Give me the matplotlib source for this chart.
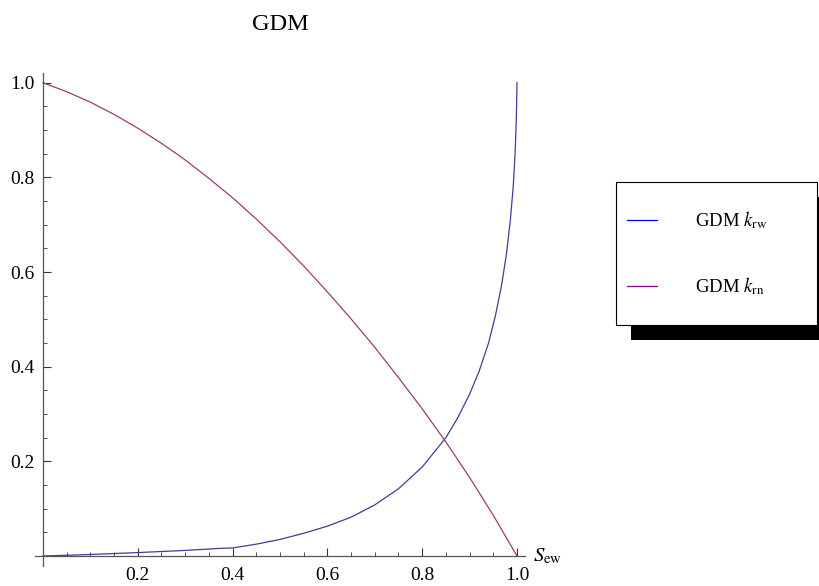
import matplotlib
matplotlib.use("Agg")
import matplotlib.pyplot as plt
from matplotlib.patches import Rectangle
from matplotlib.lines import Line2D

plt.rcParams['font.family'] = ['Liberation Serif', 'DejaVu Serif']
plt.rcParams['mathtext.fontset'] = 'stix'

# relative permeability of the wetting phase
sw_w = [0.0, 0.05, 0.1, 0.2, 0.3, 0.377, 0.4, 0.45, 0.5, 0.55, 0.6, 0.65, 0.7,
        0.75, 0.8, 0.85, 0.875, 0.9, 0.92, 0.94, 0.955, 0.968, 0.978, 0.986,
        0.992, 0.996, 0.9985, 1.0]
krw = [0.0, 0.0015, 0.0032, 0.0072, 0.0118, 0.0163, 0.017, 0.025, 0.035, 0.048,
       0.063, 0.082, 0.108, 0.142, 0.188, 0.25, 0.292, 0.342, 0.39, 0.45, 0.51,
       0.575, 0.64, 0.71, 0.78, 0.85, 0.92, 1.0]

# relative permeability of the non-wetting phase
sw_n = [0.0, 0.05, 0.1, 0.15, 0.2, 0.25, 0.3, 0.35, 0.4, 0.45, 0.5, 0.55, 0.6,
        0.65, 0.7, 0.75, 0.8, 0.85, 0.9, 0.95, 1.0]
krn = [1.0, 0.981, 0.959, 0.933, 0.904, 0.872, 0.837, 0.798, 0.757, 0.712,
       0.664, 0.613, 0.558, 0.501, 0.441, 0.377, 0.311, 0.241, 0.166, 0.086, 0.0]

x_ticks = [0.2, 0.4, 0.6, 0.8, 1.0]
y_ticks = [0.2, 0.4, 0.6, 0.8, 1.0]
x_minor = [i * 0.05 for i in range(1, 21)]
y_minor = [i * 0.05 for i in range(1, 21)]

col_w = '#3e3d99'
col_n = '#993d74'

W, H = 820, 586
fig = plt.figure(figsize=(W / 100, H / 100), dpi=100)

# data (0..1) spans 42.9..517 px horizontally, 556..82.7 px (from top) vertically
px_x0, px_x1 = 42.9, 517.0
px_y0, px_y1 = 556.0, 82.7
sx = px_x1 - px_x0
sy = px_y0 - px_y1
xlo, xhi = -0.02, 1.02
ylo, yhi = -0.025, 1.025
left = (px_x0 + xlo * sx) / W
width = (xhi - xlo) * sx / W
bottom = (H - px_y0 + ylo * sy) / H
height = (yhi - ylo) * sy / H
ax = fig.add_axes([left, bottom, width, height])
ax.set_xlim(xlo, xhi)
ax.set_ylim(ylo, yhi)
ax.patch.set_visible(False)

ax.plot(sw_w, krw, color=col_w, lw=0.9, solid_joinstyle='round')
ax.plot(sw_n, krn, color=col_n, lw=0.9, solid_joinstyle='round')

for side in ('top', 'right'):
    ax.spines[side].set_visible(False)
ax.spines['left'].set_position(('data', 0))
ax.spines['bottom'].set_position(('data', 0))
ax.spines['left'].set_bounds(-0.021, 1.021)
ax.spines['bottom'].set_bounds(-0.016, 1.017)
for side in ('left', 'bottom'):
    ax.spines[side].set_color('#555555')
    ax.spines[side].set_linewidth(0.9)

ax.set_xticks(x_ticks)
ax.set_yticks(y_ticks)
ax.set_xticks(x_minor, minor=True)
ax.set_yticks(y_minor, minor=True)
ax.set_xticklabels([f'{v:.1f}' for v in x_ticks])
ax.set_yticklabels([f'{v:.1f}' for v in y_ticks])
ax.tick_params(which='major', direction='in', length=5.5, width=0.8,
               color='#333333', labelsize=14, pad=6)
ax.tick_params(which='minor', direction='in', length=3, width=0.6,
               color='#333333')
ax.tick_params(axis='x', pad=8)

ax.text(1.034, 0.0, r'$S_{\mathrm{ew}}$', fontsize=15, ha='left', va='center')

fig.text(280 / W, 1 - 25 / H, 'GDM', fontsize=17.5, ha='center', va='center')

# legend with drop shadow
bx0, by0, bx1, by1 = 616, 182, 817, 325
off = 15
fig.add_artist(Rectangle(((bx0 + off) / W, 1 - (by1 + off) / H),
                         (bx1 - bx0) / W, (by1 - by0) / H,
                         transform=fig.transFigure, facecolor='black',
                         edgecolor='none', zorder=5))
fig.add_artist(Rectangle((bx0 / W, 1 - by1 / H), (bx1 - bx0) / W, (by1 - by0) / H,
                         transform=fig.transFigure, facecolor='white',
                         edgecolor='black', lw=0.8, zorder=6))
entries = [('blue', r'GDM $k_{\mathrm{rw}}$', 220),
           ('purple', r'GDM $k_{\mathrm{rn}}$', 286)]
for c, label, yy in entries:
    fig.add_artist(Line2D([627 / W, 657 / W], [1 - yy / H, 1 - yy / H],
                          transform=fig.transFigure, color=c, lw=0.9, zorder=7))
    fig.text(695 / W, 1 - yy / H, label, fontsize=13.5, ha='left', va='center',
             zorder=7)

fig.savefig('out.png', dpi=100)
